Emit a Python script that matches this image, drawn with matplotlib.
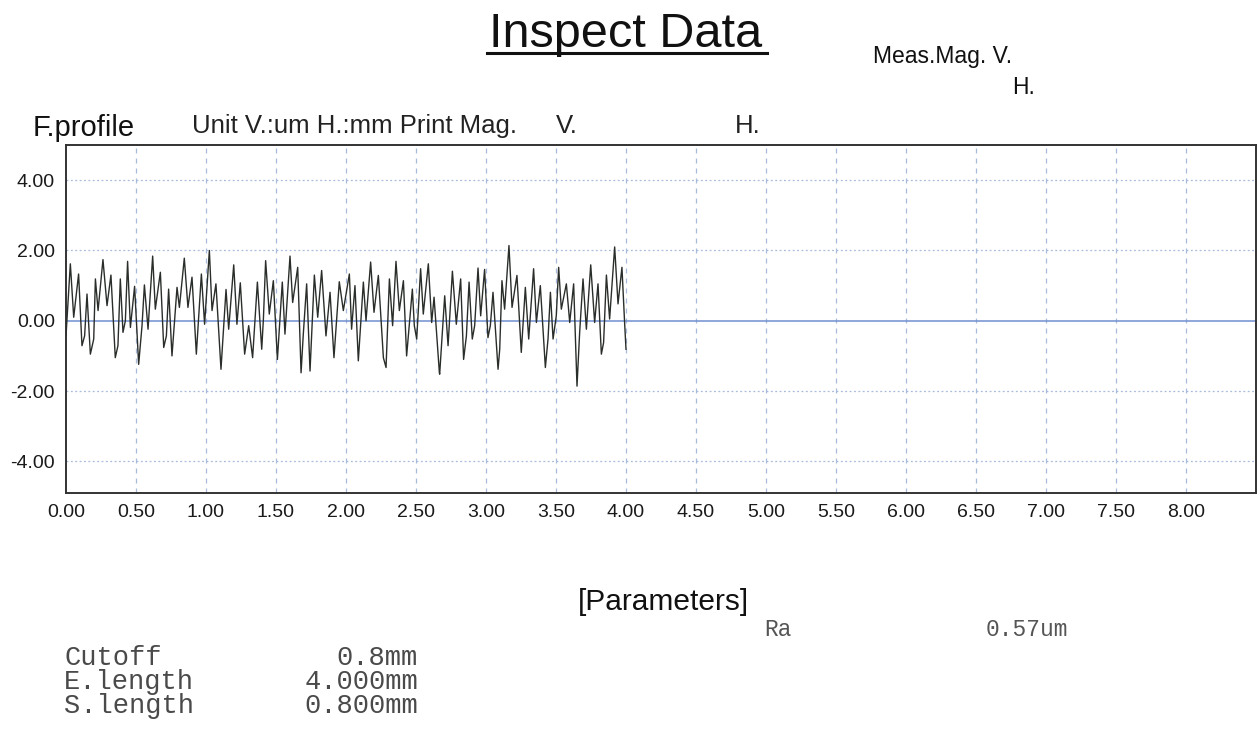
import matplotlib
matplotlib.use("Agg")
import matplotlib.pyplot as plt
import numpy as np

# ---- data ----
pos_mm = [
    0.000, 0.031, 0.055, 0.090, 0.114, 0.133, 0.150, 0.174, 0.198, 0.210,
    0.229, 0.264, 0.293, 0.321, 0.352, 0.371, 0.388, 0.407, 0.424, 0.440,
    0.460, 0.490, 0.519, 0.543, 0.560, 0.586, 0.619, 0.638, 0.674, 0.698,
    0.717, 0.733, 0.757, 0.793, 0.810, 0.845, 0.871, 0.900, 0.931, 0.967,
    0.990, 1.024, 1.043, 1.071, 1.107, 1.143, 1.162, 1.198, 1.221, 1.245,
    1.276, 1.305,
    1.314, 1.333, 1.367, 1.398, 1.410, 1.426, 1.452, 1.481, 1.510, 1.545,
    1.564, 1.600, 1.619, 1.655, 1.679, 1.695, 1.719, 1.743, 1.774, 1.798,
    1.826, 1.857, 1.886, 1.914, 1.952, 1.981, 2.024, 2.040, 2.064, 2.088,
    2.124, 2.143, 2.176, 2.200, 2.231, 2.267, 2.286, 2.310, 2.333, 2.357,
    2.381, 2.410, 2.433, 2.474, 2.488, 2.505, 2.533, 2.552, 2.588, 2.612,
    2.629, 2.667,
    2.669, 2.705, 2.729, 2.760, 2.788, 2.819, 2.840, 2.860, 2.879, 2.902,
    2.919, 2.943, 2.962, 2.990, 3.014, 3.031, 3.050, 3.086, 3.098, 3.114,
    3.133, 3.164, 3.186, 3.221, 3.252, 3.281, 3.305, 3.340, 3.360, 3.388,
    3.424, 3.443, 3.460, 3.479, 3.502, 3.519, 3.538, 3.574, 3.598, 3.626,
    3.650, 3.669, 3.693, 3.717, 3.748, 3.776, 3.800, 3.824, 3.840, 3.860,
    3.883, 3.919, 3.943, 3.971, 3.990, 4.000,
]
height_um = [
    -0.43, 1.62, 0.10, 1.33, -0.71, -0.43, 0.76, -0.95, -0.52, 1.19,
    0.29, 1.74, 0.43, 1.30, -1.05, -0.71, 1.19, -0.33, 0.00, 1.69,
    -0.19, 0.98, -1.24, -0.14, 1.02, -0.24, 1.84, 0.33, 1.38, -0.76,
    -0.43, 0.90, -1.00, 0.95, 0.38, 1.78, 0.38, 1.24, -0.95, 1.33,
    -0.10, 2.00, 0.29, 1.05, -1.38, 0.89, -0.24, 1.59, -0.10, 1.08,
    -0.95, -0.14,
    -0.43, -1.05, 1.10, -0.81, 0.05, 1.71, 0.19, 1.14, -1.10, 1.10,
    -0.38, 1.84, 0.52, 1.52, -1.48, -0.38, 1.05, -1.43, 1.30, 0.10,
    1.43, -0.43, 0.81, -1.05, 1.11, 0.29, 1.33, -0.24, 1.00, -1.14,
    1.10, 0.00, 1.67, 0.24, 1.29, -1.05, -1.33, 1.19, -0.14, 1.69,
    0.29, 1.14, -1.00, 0.90, -0.14, -0.52, 1.48, 0.19, 1.62, -0.05,
    0.67, -1.48,
    -1.52, 0.71, -0.71, 1.41, -0.10, 1.19, -1.10, -0.43, 1.10, -0.52,
    -0.14, 1.50, 0.14, 1.46, -0.48, -0.14, 0.81, -1.38, -0.81, 1.14,
    0.33, 2.14, 0.38, 1.29, -0.90, 0.95, -0.52, 1.48, -0.05, 1.00,
    -1.33, -0.52, 0.81, -0.52, 0.14, 1.52, 0.33, 1.05, -0.05, 1.05,
    -1.86, -0.33, 1.19, -0.24, 1.59, -0.05, 1.05, -0.95, -0.62, 1.30,
    0.05, 2.10, 0.48, 1.52, -0.05, -0.81,
]
x_ticks = [0.0, 0.5, 1.0, 1.5, 2.0, 2.5, 3.0, 3.5, 4.0, 4.5, 5.0, 5.5, 6.0, 6.5, 7.0, 7.5, 8.0]
y_ticks = [4.0, 2.0, 0.0, -2.0, -4.0]
param_names = ["Cutoff", "E.length", "S.length"]
param_values = ["0.8mm", "4.000mm", "0.800mm"]
ra_name = "Ra"
ra_value = "0.57um"

SANS = ["Liberation Sans", "DejaVu Sans"]
MONO = ["Liberation Mono", "DejaVu Sans Mono"]

W, H = 1259, 730
fig = plt.figure(figsize=(W / 100, H / 100), dpi=100)
fig.patch.set_facecolor("white")

def fx(px):
    return px / W

def fy(py):
    return 1 - py / H

ax = fig.add_axes([fx(66), fy(493), fx(1256) - fx(66), fy(145) - fy(493)])
ax.set_xlim(0, 8.5)
ax.set_ylim(-4.9, 5.0)

grid_col = "#a9bbdd"
for xv in x_ticks[1:]:
    ax.axvline(xv, color=grid_col, lw=0.9, ls=(0, (4, 4)), zorder=1)
for yv in y_ticks:
    if yv == 0:
        ax.axhline(yv, color="#6f8fd0", lw=1.1, zorder=1)
    else:
        ax.axhline(yv, color=grid_col, lw=0.9, ls=(0, (1.5, 2)), zorder=1)

ax.plot(pos_mm, height_um, color="#2a2e2a", lw=1.0, zorder=3)

ax.set_xticks(x_ticks)
ax.set_xticklabels([f"{v:.2f}" for v in x_ticks], family=SANS, fontsize=14)
ax.set_yticks(y_ticks)
ax.set_yticklabels([f"{v:.2f}" for v in y_ticks], family=SANS, fontsize=14)
ax.tick_params(length=0, pad=8, colors="#1a1a1a")
for s in ax.spines.values():
    s.set_color("#333333")
    s.set_linewidth(1.4)

# ---- header texts ----
fig.text(fx(626), fy(47), "Inspect Data", ha="center", va="baseline",
         family=SANS, fontsize=35, color="#111111")
fig.add_artist(matplotlib.lines.Line2D([fx(487), fx(767)], [fy(53), fy(53)],
               color="#111111", lw=2.2))
fig.text(fx(873), fy(56), "Meas.Mag. V.", ha="left", va="center",
         family=SANS, fontsize=16.5, color="#111111")
fig.text(fx(1012), fy(87), "H.", ha="left", va="center",
         family=SANS, fontsize=16.5, color="#111111")
fig.text(fx(33), fy(128), "F.profile", ha="left", va="center",
         family=SANS, fontsize=21, color="#111111")
fig.text(fx(192), fy(126), "Unit V.:um H.:mm Print Mag.", ha="left", va="center",
         family=SANS, fontsize=18.5, color="#222222")
fig.text(fx(556), fy(126), "V.", ha="left", va="center",
         family=SANS, fontsize=18.5, color="#222222")
fig.text(fx(735), fy(126), "H.", ha="left", va="center",
         family=SANS, fontsize=18.5, color="#222222")

# ---- parameters ----
fig.text(fx(578), fy(602), "[Parameters]", ha="left", va="center",
         family=SANS, fontsize=21.5, color="#111111")
fig.text(fx(764), fy(629), ra_name, ha="left", va="center",
         family=MONO, fontsize=16.5, color="#555555")
fig.text(fx(1068), fy(629), ra_value, ha="right", va="center",
         family=MONO, fontsize=16.5, color="#555555")
for i, (n, v) in enumerate(zip(param_names, param_values)):
    yy = 658 + i * 24
    fig.text(fx(64), fy(yy), n, ha="left", va="center",
             family=MONO, fontsize=19.5, color="#4a4a4a")
    fig.text(fx(418), fy(yy), v, ha="right", va="center",
             family=MONO, fontsize=19.5, color="#4a4a4a")

fig.savefig("out.png", dpi=100, facecolor="white")
